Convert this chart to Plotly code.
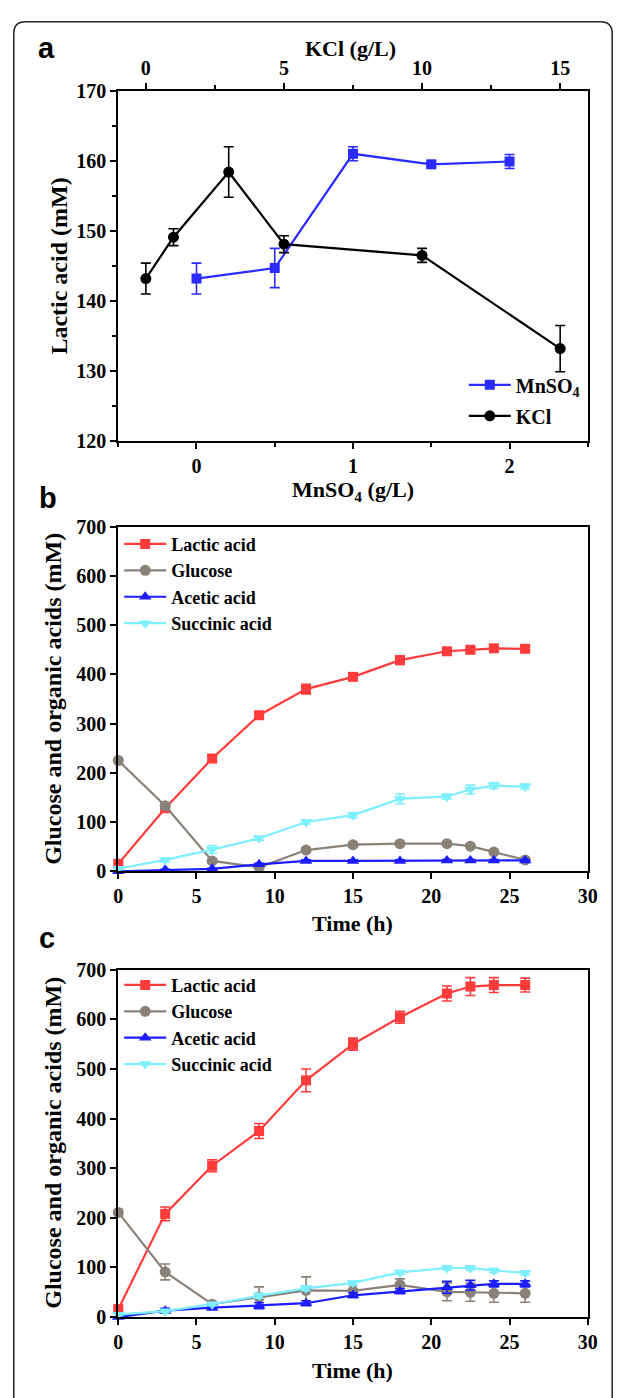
import plotly.graph_objects as go

W, H = 630, 1398

# ---------------- Data ----------------
# Panel a
mnso4_conc = [0, 0.5, 1.0, 1.5, 2.0]
mnso4_lactic = [143.2, 144.7, 161.0, 159.5, 159.9]
mnso4_err = [2.2, 2.8, 1.0, 0.4, 1.0]

kcl_conc = [0, 1, 3, 5, 10, 15]
kcl_lactic = [143.2, 149.1, 158.4, 148.1, 146.5, 133.2]
kcl_err = [2.2, 1.2, 3.6, 1.2, 1.0, 3.3]

# Panel b
time_b = [0, 3, 6, 9, 12, 15, 18, 21, 22.5, 24, 26]
lactic_b = [15, 128, 229, 317, 370, 395, 429, 447, 450, 453, 452]
lactic_b_err = [3, 5, 6, 6, 10, 7, 9, 5, 4, 4, 5]
glucose_b = [225, 133, 21, 8, 43, 54, 56, 56, 51, 39, 23]
glucose_b_err = [5, 6, 4, 3, 4, 4, 4, 3, 3, 4, 3]
acetic_b = [0, 3, 5, 14, 21, 21, 21, 22, 22, 22, 22]
acetic_b_err = [1, 1, 1, 2, 2, 2, 2, 2, 2, 2, 2]
succinic_b = [5, 23, 44, 67, 100, 114, 147, 152, 166, 174, 172]
succinic_b_err = [2, 4, 8, 4, 4, 5, 10, 5, 9, 6, 5]

# Panel c
time_c = [0, 3, 6, 9, 12, 15, 18, 21, 22.5, 24, 26]
lactic_c = [16, 208, 305, 375, 477, 550, 604, 652, 666, 669, 669]
lactic_c_err = [3, 14, 12, 15, 23, 12, 12, 15, 18, 15, 14]
glucose_c = [211, 91, 26, 40, 54, 53, 65, 51, 50, 48, 48]
glucose_c_err = [6, 16, 5, 21, 27, 12, 12, 18, 18, 18, 18]
acetic_c = [0, 13, 19, 23, 28, 44, 52, 60, 64, 67, 67]
acetic_c_err = [1, 5, 4, 6, 5, 5, 5, 12, 10, 6, 6]
succinic_c = [5, 12, 26, 43, 58, 69, 90, 99, 99, 94, 89]
succinic_c_err = [2, 3, 3, 5, 5, 4, 4, 4, 4, 4, 4]

series_names = ["Lactic acid", "Glucose", "Acetic acid", "Succinic acid"]

# ---------------- Styles ----------------
RED = "#FF3B3B"
GRAY = "#8A8179"
BLUE = "#1C1CFF"
CYAN = "#7DEFFF"
MN_BLUE = "#2B2BFF"

SERIF = "Liberation Serif"
SANS = "Liberation Sans"


def fx(px):
    return px / W


def fy(py):
    return 1 - py / H


fig = go.Figure()


def add_series(x, y, err, name, color, symbol, size, xa, ya, legend):
    fig.add_trace(go.Scatter(
        x=x, y=y, name="<b>" + name + "</b>", mode="lines+markers",
        line=dict(color=color, width=2.2),
        marker=dict(color=color, symbol=symbol, size=size),
        error_y=dict(type="data", array=err, visible=True, color=color,
                     thickness=1.6, width=5),
        xaxis=xa, yaxis=ya, legend=legend, cliponaxis=False,
        legendgroup=name + legend,
    ))


# Panel a
add_series(mnso4_conc, mnso4_lactic, mnso4_err, "MnSO<sub>4</sub>", MN_BLUE,
           "square", 10, "x", "y", "legend")
add_series(kcl_conc, kcl_lactic, kcl_err, "KCl", "black",
           "circle", 11, "x4", "y", "legend")

styles = [(RED, "square", 10), (GRAY, "circle", 11),
          (BLUE, "triangle-up", 11), (CYAN, "triangle-down", 11)]

# Panel b
for nm, yy, ee, (col, sym, sz) in zip(
        series_names,
        [lactic_b, glucose_b, acetic_b, succinic_b],
        [lactic_b_err, glucose_b_err, acetic_b_err, succinic_b_err], styles):
    add_series(time_b, yy, ee, nm, col, sym, sz, "x2", "y2", "legend2")

# Panel c
for nm, yy, ee, (col, sym, sz) in zip(
        series_names,
        [lactic_c, glucose_c, acetic_c, succinic_c],
        [lactic_c_err, glucose_c_err, acetic_c_err, succinic_c_err], styles):
    add_series(time_c, yy, ee, nm, col, sym, sz, "x3", "y3", "legend3")

tickfont = dict(family=SERIF, size=20, color="black", weight="bold")
axis_common = dict(
    showline=True, linewidth=2, linecolor="black", showgrid=False,
    zeroline=False, ticks="outside", ticklen=6, tickwidth=2,
    tickcolor="black", tickfont=tickfont,
)
minor_common = dict(ticks="outside", ticklen=4, tickwidth=2, tickcolor="black")

dom_x = [fx(116), fx(597)]

fig.update_layout(
    width=W, height=H,
    margin=dict(l=0, r=0, t=0, b=0),
    paper_bgcolor="white", plot_bgcolor="white",
    # Panel a
    xaxis=dict(domain=dom_x, anchor="y", range=[-0.5, 2.5], tick0=0, dtick=1,
               minor=dict(dtick=0.5, **minor_common), **axis_common),
    xaxis4=dict(overlaying="x", side="top", anchor="y", range=[-1, 16],
                tick0=0, dtick=5, minor=dict(dtick=2.5, **minor_common),
                **axis_common),
    yaxis=dict(domain=[fy(437), fy(81)], anchor="x", range=[120, 170],
               dtick=10, mirror=True, minor=dict(dtick=5, **minor_common),
               **axis_common),
    # Panel b
    xaxis2=dict(domain=dom_x, anchor="y2", range=[0, 30], dtick=5,
                mirror=True, **axis_common),
    yaxis2=dict(domain=[fy(874), fy(524)], anchor="x2", range=[0, 700],
                dtick=100, mirror=True, **axis_common),
    # Panel c
    xaxis3=dict(domain=dom_x, anchor="y3", range=[0, 30], dtick=5,
                mirror=True, **axis_common),
    yaxis3=dict(domain=[fy(1327), fy(974)], anchor="x3", range=[0, 700],
                dtick=100, mirror=True, **axis_common),
    showlegend=True,
)

legend_font_a = dict(family=SERIF, size=20, color="black")
legend_font = dict(family=SERIF, size=18, color="black")
fig.update_layout(
    legend=dict(x=fx(470), y=fy(360), xanchor="left", yanchor="top",
                font=legend_font_a, bgcolor="rgba(0,0,0,0)", itemwidth=42,
                tracegroupgap=2, traceorder="grouped"),
    legend2=dict(x=fx(117), y=fy(523), xanchor="left", yanchor="top",
                 font=legend_font, bgcolor="rgba(0,0,0,0)", itemwidth=42,
                 tracegroupgap=0, traceorder="grouped"),
    legend3=dict(x=fx(117), y=fy(971), xanchor="left", yanchor="top",
                 font=legend_font, bgcolor="rgba(0,0,0,0)", itemwidth=42,
                 tracegroupgap=0, traceorder="grouped"),
)

title_font = dict(family=SERIF, size=22, color="black", weight="bold")
ytitle_font = dict(family=SERIF, size=24, color="black", weight="bold")
label_font = dict(family=SANS, size=29, color="black", weight="bold")

annotations = [
    dict(text="KCl (g/L)", x=fx(354), y=fy(38), font=title_font),
    dict(text="MnSO<sub>4</sub> (g/L)", x=fx(356), y=fy(488), font=title_font),
    dict(text="Lactic acid (mM)", x=fx(55), y=fy(259), font=ytitle_font,
         textangle=-90),
    dict(text="Glucose and organic acids (mM)", x=fx(49), y=fy(699),
         font=ytitle_font, textangle=-90),
    dict(text="Time (h)", x=fx(356), y=fy(927), font=title_font),
    dict(text="Glucose and organic acids (mM)", x=fx(49), y=fy(1150),
         font=ytitle_font, textangle=-90),
    dict(text="Time (h)", x=fx(356), y=fy(1381), font=title_font),
    dict(text="a", x=fx(43), y=fy(38), font=label_font),
    dict(text="b", x=fx(44), y=fy(495), font=label_font),
    dict(text="c", x=fx(43), y=fy(942), font=label_font),
]
for a in annotations:
    a.update(xref="paper", yref="paper", showarrow=False,
             xanchor="center", yanchor="middle")
fig.update_layout(annotations=annotations)

# Rounded outer frame
L, R, T, B, r = 9, 622, 11, 1430, 12
path = (
    f"M {fx(L)},{fy(B)} L {fx(L)},{fy(T + r)} "
    f"Q {fx(L)},{fy(T)} {fx(L + r)},{fy(T)} "
    f"L {fx(R - r)},{fy(T)} Q {fx(R)},{fy(T)} {fx(R)},{fy(T + r)} "
    f"L {fx(R)},{fy(B)}"
)
fig.add_shape(type="path", path=path, xref="paper", yref="paper",
              line=dict(color="#222222", width=1.5), layer="below")

fig.write_html("out.html",
               config={"displayModeBar": False},
               post_script="document.body.style.margin='0';"
                           "document.body.style.overflow='hidden';")
